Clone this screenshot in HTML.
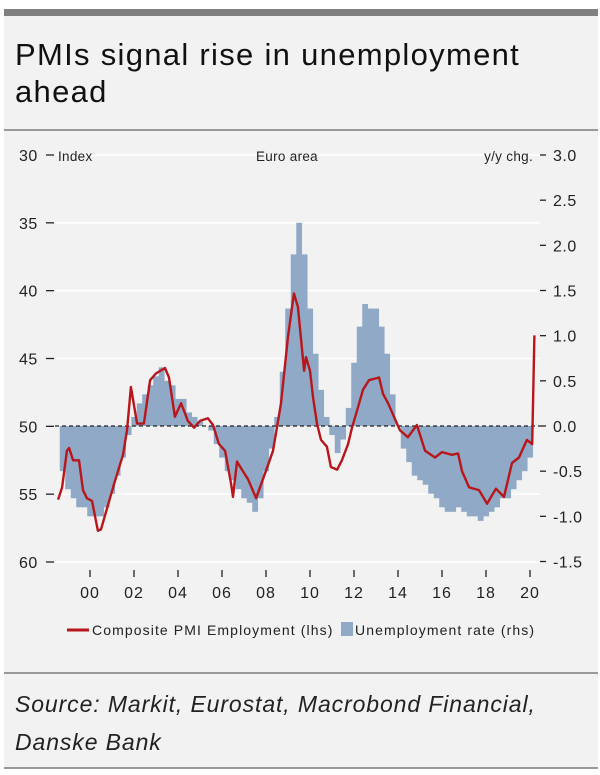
<!DOCTYPE html>
<html><head><meta charset="utf-8">
<style>
html,body{margin:0;padding:0;background:#fff;}
body{width:600px;height:775px;position:relative;overflow:hidden;font-family:"Liberation Sans",sans-serif;}
#panel{position:absolute;left:4px;top:9px;width:594px;height:759px;background:#f2f2f2;}
#topbar{position:absolute;left:4px;top:9px;width:594px;height:7px;background:#808080;}
.hl{position:absolute;left:4px;width:594px;height:2px;background:#999;}
#title{position:absolute;left:15px;top:36px;font-size:31px;line-height:37px;color:#111;letter-spacing:1.3px;}
#source{position:absolute;left:15px;top:685px;font-size:23px;line-height:38px;font-style:italic;color:#222;letter-spacing:0.9px;}
svg{position:absolute;left:0;top:0;}
</style></head><body>
<div id="panel"></div>
<div id="topbar"></div>
<div class="hl" style="top:129px"></div>
<div class="hl" style="top:672px"></div>
<div class="hl" style="top:767px"></div>
<div id="title">PMIs signal rise in unemployment<br>ahead</div>
<div id="source">Source: Markit, Eurostat, Macrobond Financial,<br>Danske Bank</div>
<svg id="chart" width="600" height="775"></svg>
<script>
const leftTicks=[30,35,40,45,50,55,60];
const rightTicks=["3.0","2.5","2.0","1.5","1.0","0.5","0.0","-0.5","-1.0","-1.5"];
const rightTickVals=[3,2.5,2,1.5,1,0.5,0,-0.5,-1,-1.5];
const yearLabels=["00","02","04","06","08","10","12","14","16","18","20"];
const yearVals=[2000,2002,2004,2006,2008,2010,2012,2014,2016,2018,2020];
const pmiYears=[1998.55,1998.73,1998.95,1999.05,1999.23,1999.5,1999.68,1999.86,2000.09,2000.36,2000.5,2000.82,2001.14,2001.5,2001.68,2001.86,2002.14,2002.45,2002.73,2003.0,2003.41,2003.59,2003.86,2004.14,2004.45,2004.73,2005.0,2005.36,2005.59,2005.86,2006.14,2006.41,2006.5,2006.68,2006.91,2007.18,2007.55,2007.95,2008.32,2008.68,2009.0,2009.27,2009.45,2009.73,2009.82,2010.0,2010.14,2010.32,2010.5,2010.77,2010.95,2011.23,2011.45,2011.73,2011.91,2012.18,2012.41,2012.68,2013.14,2013.32,2013.55,2013.82,2014.09,2014.45,2014.86,2015.23,2015.68,2016.0,2016.45,2016.73,2016.91,2017.23,2017.68,2018.05,2018.45,2018.82,2019.18,2019.5,2019.86,2020.1,2020.2];
const pmiValues=[55.4,54.5,51.8,51.6,52.5,52.5,54.7,55.3,55.5,57.7,57.6,55.8,54.0,52.1,50.3,47.1,49.8,49.8,46.6,46.1,45.7,46.4,49.3,48.3,49.6,50.1,49.6,49.4,49.9,51.3,51.8,54.2,55.2,52.6,53.2,53.9,55.3,53.5,51.8,48.3,43.4,40.2,41.2,45.9,44.9,45.9,47.9,49.8,51.0,51.5,53.0,53.2,52.5,51.3,50.1,48.6,47.3,46.6,46.4,47.6,48.3,49.3,50.3,50.8,49.9,51.8,52.3,51.9,52.1,52.0,53.3,54.5,54.7,55.7,54.6,55.2,52.7,52.3,51.0,51.3,43.3];
const unYears=[1998.75,1999.0,1999.25,1999.5,1999.75,2000.0,2000.25,2000.5,2000.75,2001.0,2001.25,2001.5,2001.75,2002.0,2002.25,2002.5,2002.75,2003.0,2003.25,2003.5,2003.75,2004.0,2004.25,2004.5,2004.75,2005.0,2005.25,2005.5,2005.75,2006.0,2006.25,2006.5,2006.75,2007.0,2007.25,2007.5,2007.75,2008.0,2008.25,2008.5,2008.75,2009.0,2009.25,2009.5,2009.75,2010.0,2010.25,2010.5,2010.75,2011.0,2011.25,2011.5,2011.75,2012.0,2012.25,2012.5,2012.75,2013.0,2013.25,2013.5,2013.75,2014.0,2014.25,2014.5,2014.75,2015.0,2015.25,2015.5,2015.75,2016.0,2016.25,2016.5,2016.75,2017.0,2017.25,2017.5,2017.75,2018.0,2018.25,2018.5,2018.75,2019.0,2019.25,2019.5,2019.75,2020.0];
const unValues=[-0.5,-0.7,-0.8,-0.9,-0.9,-1.0,-1.0,-1.0,-0.9,-0.75,-0.55,-0.35,-0.1,0.1,0.25,0.35,0.45,0.55,0.65,0.5,0.45,0.3,0.3,0.15,0.1,0.05,0.0,-0.05,-0.2,-0.35,-0.5,-0.6,-0.7,-0.8,-0.85,-0.95,-0.8,-0.5,-0.25,0.1,0.6,1.3,1.9,2.25,1.9,1.3,0.8,0.4,0.1,-0.1,-0.3,-0.15,0.2,0.7,1.1,1.35,1.3,1.3,1.1,0.8,0.35,0.0,-0.25,-0.4,-0.55,-0.6,-0.65,-0.75,-0.8,-0.9,-0.95,-0.95,-0.9,-0.95,-1.0,-1.0,-1.05,-1.0,-0.95,-0.9,-0.8,-0.8,-0.7,-0.6,-0.5,-0.35];

const NS="http://www.w3.org/2000/svg";
const svg=document.getElementById('chart');
const xS=y=>90+(y-2000)*22;
const yL=v=>155+(v-30)*(407/30);
const yR=v=>426-v*(271/3);
function mk(t,a,p){const e=document.createElementNS(NS,t);for(const k in a)e.setAttribute(k,a[k]);(p||svg).appendChild(e);return e;}
const F='"Liberation Sans",sans-serif';
leftTicks.forEach(v=>{if(v===50)return;
 const g=mk('line',{x1:55,x2:540,y1:yL(v),y2:yL(v),stroke:'#fff','stroke-width':1.5});
 
 });
const bw=5.5;
unYears.forEach((yr,i)=>{const v=unValues[i];const y0=yR(0),y1=yR(v);
 const r=mk('rect',{x:xS(yr)-bw/2,y:Math.min(y0,y1),width:bw+0.3,height:Math.abs(y1-y0),fill:'#8fa9c6'});
 
 });
const z=mk('line',{x1:55,x2:540,y1:yR(0),y2:yR(0),stroke:'#222','stroke-width':1.3,'stroke-dasharray':'4,3'});


const pts=pmiYears.map((yr,i)=>xS(yr).toFixed(1)+','+yL(pmiValues[i]).toFixed(1)).join(' ');
const pl=mk('polyline',{points:pts,fill:'none',stroke:'#b8161b','stroke-width':2.4,'stroke-linejoin':'round'});


leftTicks.forEach(v=>{const y=yL(v);
 const t=mk('text',{x:19,y:y+6,'font-family':F,'font-size':16,fill:'#222','letter-spacing':0.5});t.textContent=String(v);
 
 
 mk('line',{x1:46,x2:54,y1:y,y2:y,stroke:'#222','stroke-width':1.3});});
rightTicks.forEach((s,i)=>{const y=yR(rightTickVals[i]);
 const t=mk('text',{x:553,y:y+6,'font-family':F,'font-size':16,fill:'#222','letter-spacing':0.5});t.textContent=s;
 
 
 mk('line',{x1:540,x2:546,y1:y,y2:y,stroke:'#222','stroke-width':1.3});});
yearVals.forEach((yr,i)=>{const x=xS(yr);
 mk('line',{x1:x,x2:x,y1:570,y2:577,stroke:'#222','stroke-width':1.3});
 const t=mk('text',{x:x,y:598,'font-family':F,'font-size':16,fill:'#222','text-anchor':'middle','letter-spacing':1});t.textContent=yearLabels[i];
 
 });
function txt(x,y,s,name,anchor,size,ls){const t=mk('text',{x:x,y:y,'font-family':F,'font-size':size||13.5,fill:'#222','text-anchor':anchor||'start','letter-spacing':ls||0.3});t.textContent=s;
 
 return t;}
txt(58,161,'Index','left-axis-title');
txt(287,161,'Euro area','chart-subtitle','middle');
txt(533,161,'y/y chg.','right-axis-title','end');
const lg=mk('line',{x1:67,x2:89,y1:630,y2:630,stroke:'#b8161b','stroke-width':3});


txt(92,635,'Composite PMI Employment (lhs)','legend-entry-pmi','start',14,1.1);
const lr=mk('rect',{x:341,y:622,width:12,height:14,fill:'#8fa9c6'});


txt(355,635,'Unemployment rate (rhs)','legend-entry-unemployment','start',14,1.1);
</script>
</body></html>
